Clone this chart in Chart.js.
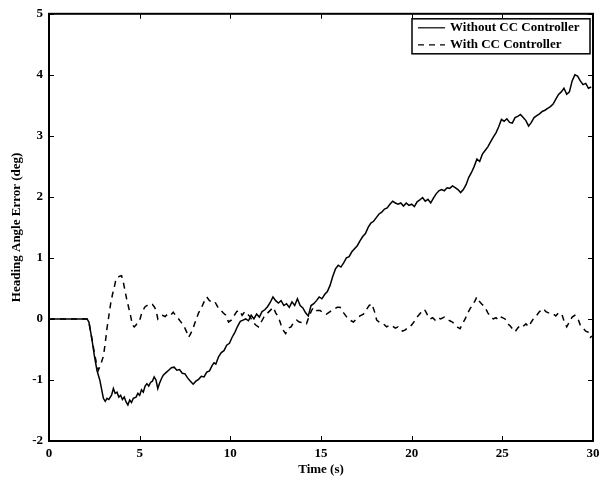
<!DOCTYPE html>
<html>
<head>
<meta charset="utf-8">
<script src="https://cdn.jsdelivr.net/npm/chart.js@4.4.1/dist/chart.umd.min.js"></script>
<style>
  html,body{margin:0;padding:0;background:#fff;}
  #wrap{width:608px;height:480px;}
</style>
</head>
<body>
<div id="wrap"><canvas id="myChart" width="608" height="480"></canvas></div>
<script>
// time (s) and heading angle error (deg)
let tWithout = [0,2.1,2.2,2.35,2.5,2.65,2.8,2.9,3.0,3.1,3.2,3.3,3.45,3.55,3.65,3.75,3.85,3.95,4.05,4.15,4.25,4.35,4.45,4.55,4.65,4.8,4.9,5.0,5.1,5.2,5.3,5.4,5.5,5.6,5.7,5.8,5.9,6.0,6.1,6.2,6.3,6.45,6.6,6.75,6.9,7.05,7.2,7.35,7.5,7.65,7.8,7.95,8.1,8.25,8.4,8.55,8.7,8.85,9.0,9.1,9.2,9.35,9.5,9.65,9.8,9.95,10.1,10.25,10.4,10.55,10.7,10.85,11.0,11.15,11.3,11.45,11.6,11.75,11.9,12.05,12.2,12.35,12.5,12.65,12.8,12.95,13.1,13.25,13.4,13.55,13.7,13.85,14.0,14.15,14.3,14.45,14.6,14.75,14.9,15.05,15.2,15.35,15.5,15.65,15.8,15.95,16.1,16.25,16.4,16.55,16.7,16.85,17.0,17.15,17.3,17.45,17.6,17.75,17.9,18.05,18.2,18.35,18.5,18.65,18.8,18.95,19.1,19.25,19.4,19.55,19.7,19.85,20.0,20.15,20.3,20.45,20.6,20.75,20.9,21.05,21.2,21.35,21.5,21.65,21.8,21.95,22.1,22.25,22.4,22.55,22.7,22.85,23.0,23.15,23.3,23.45,23.6,23.75,23.9,24.05,24.2,24.35,24.5,24.65,24.8,24.95,25.1,25.25,25.4,25.55,25.7,25.85,26.0,26.15,26.3,26.45,26.6,26.75,26.9,27.05,27.2,27.35,27.5,27.65,27.8,27.95,28.1,28.25,28.4,28.55,28.7,28.85,29.0,29.15,29.3,29.45,29.6,29.75,29.9]
let yWithout = [0,0,-0.05,-0.3,-0.6,-0.85,-1.0,-1.15,-1.3,-1.35,-1.3,-1.32,-1.25,-1.14,-1.22,-1.2,-1.28,-1.25,-1.32,-1.28,-1.36,-1.41,-1.33,-1.37,-1.3,-1.28,-1.22,-1.25,-1.16,-1.2,-1.1,-1.06,-1.1,-1.04,-1.02,-0.95,-1.0,-1.14,-1.05,-0.98,-0.92,-0.88,-0.84,-0.8,-0.79,-0.84,-0.83,-0.89,-0.9,-0.97,-1.02,-1.07,-1.02,-0.99,-0.94,-0.95,-0.87,-0.85,-0.76,-0.72,-0.74,-0.62,-0.55,-0.52,-0.43,-0.4,-0.3,-0.22,-0.12,-0.04,-0.02,0.0,-0.03,0.06,0.0,0.08,0.03,0.12,0.15,0.2,0.27,0.36,0.3,0.26,0.3,0.22,0.25,0.19,0.28,0.22,0.33,0.22,0.18,0.1,0.05,0.22,0.25,0.3,0.36,0.33,0.4,0.45,0.55,0.7,0.82,0.88,0.85,0.92,1.0,1.02,1.1,1.15,1.2,1.28,1.35,1.4,1.5,1.57,1.6,1.66,1.72,1.75,1.8,1.82,1.88,1.93,1.9,1.88,1.9,1.85,1.9,1.86,1.88,1.84,1.92,1.95,1.99,1.93,1.96,1.9,1.98,2.05,2.1,2.12,2.1,2.15,2.14,2.18,2.15,2.12,2.07,2.12,2.2,2.32,2.4,2.5,2.62,2.58,2.7,2.76,2.82,2.9,2.98,3.05,3.15,3.27,3.24,3.28,3.22,3.21,3.3,3.32,3.35,3.3,3.25,3.16,3.22,3.3,3.33,3.36,3.4,3.42,3.45,3.48,3.52,3.6,3.68,3.72,3.78,3.68,3.72,3.9,4.0,3.98,3.9,3.84,3.86,3.78,3.8]

let tWith = [0,2.1,2.2,2.35,2.5,2.6,2.72,2.85,3.0,3.1,3.2,3.3,3.4,3.5,3.6,3.7,3.8,3.9,4.0,4.1,4.2,4.3,4.4,4.5,4.6,4.7,4.8,4.9,5.0,5.1,5.2,5.3,5.4,5.55,5.7,5.8,5.9,6.0,6.1,6.25,6.4,6.55,6.7,6.85,7.0,7.15,7.3,7.45,7.6,7.7,7.8,7.95,8.1,8.25,8.4,8.55,8.7,8.85,9.0,9.15,9.3,9.45,9.6,9.75,9.9,10.05,10.2,10.35,10.5,10.65,10.8,10.95,11.1,11.25,11.4,11.55,11.7,11.85,12.0,12.2,12.37,12.5,12.65,12.8,12.95,13.05,13.2,13.35,13.5,13.66,13.8,14.0,14.2,14.35,14.5,14.6,14.75,14.95,15.1,15.3,15.5,15.7,15.9,16.05,16.25,16.42,16.6,16.79,16.95,17.15,17.34,17.5,17.65,17.8,17.95,18.07,18.25,18.44,18.62,18.8,18.95,19.1,19.25,19.36,19.5,19.65,19.8,19.91,20.05,20.2,20.35,20.5,20.6,20.74,20.9,21.02,21.15,21.3,21.45,21.6,21.8,21.94,22.1,22.25,22.4,22.55,22.67,22.8,22.95,23.1,23.22,23.35,23.5,23.59,23.7,23.85,24.05,24.2,24.35,24.5,24.65,24.8,24.95,25.15,25.3,25.45,25.6,25.7,25.85,26.0,26.15,26.3,26.45,26.6,26.75,26.9,27.05,27.26,27.4,27.55,27.7,27.81,27.95,28.1,28.28,28.4,28.55,28.7,28.85,29.0,29.15,29.3,29.45,29.6,29.75,29.85,29.95]
let yWith = [0,0,-0.05,-0.3,-0.55,-0.7,-0.84,-0.75,-0.61,-0.4,-0.15,0.05,0.25,0.4,0.52,0.66,0.68,0.7,0.71,0.6,0.45,0.3,0.18,0.05,-0.1,-0.13,-0.1,-0.05,-0.02,0.08,0.15,0.2,0.22,0.25,0.24,0.2,0.15,0.0,0.04,0.06,0.04,0.08,0.06,0.11,0.05,0.0,-0.06,-0.12,-0.22,-0.3,-0.25,-0.15,-0.02,0.1,0.18,0.28,0.36,0.3,0.27,0.28,0.2,0.15,0.1,0.06,-0.05,-0.02,0.05,0.12,0.14,0.06,0.12,0.08,0.03,-0.05,-0.1,-0.13,-0.05,0.03,0.08,0.14,0.19,0.1,0.03,-0.1,-0.2,-0.24,-0.15,-0.13,-0.05,-0.02,-0.05,-0.06,-0.08,0.05,0.15,0.19,0.14,0.14,0.1,0.08,0.12,0.16,0.19,0.19,0.1,0.03,-0.02,-0.05,0.0,0.05,0.08,0.15,0.22,0.25,0.12,-0.02,-0.06,-0.08,-0.13,-0.1,-0.12,-0.15,-0.13,-0.16,-0.2,-0.18,-0.14,-0.13,-0.08,-0.02,0.05,0.1,0.15,0.14,0.05,0.0,0.02,-0.02,0.02,0.0,0.03,0.0,-0.03,-0.05,-0.1,-0.14,-0.16,-0.08,0.0,0.1,0.17,0.22,0.3,0.36,0.3,0.25,0.19,0.1,0.04,0.0,0.02,-0.02,0.03,0.0,-0.08,-0.12,-0.18,-0.21,-0.15,-0.1,-0.12,-0.08,-0.13,-0.05,0.02,0.06,0.12,0.17,0.12,0.1,0.08,0.08,0.05,0.1,0.08,-0.03,-0.13,-0.05,0.03,0.06,0.02,-0.1,-0.15,-0.2,-0.22,-0.3,-0.28]

let xTicks = [0,5,10,15,20,25,30]
let yTicks = [-2,-1,0,1,2,3,4,5]

const labelFont = {family:"'Liberation Serif', 'DejaVu Serif', serif", size:13, weight:'bold'}

// matlab style box with inward ticks + legend in the top right corner
const boxPlugin = {
  id:'box',
  afterDraw(chart){
    const ctx = chart.ctx
    const ca = chart.chartArea
    const xs = chart.scales.x, ys = chart.scales.y
    ctx.save()
    ctx.strokeStyle = '#000'
    ctx.lineWidth = 1
    ctx.beginPath()
    xTicks.forEach(v=>{
      let px = Math.round(xs.getPixelForValue(v))+0.5
      ctx.moveTo(px, ca.bottom); ctx.lineTo(px, ca.bottom-5)
      ctx.moveTo(px, ca.top); ctx.lineTo(px, ca.top+5)
    })
    yTicks.forEach(v=>{
      let py = Math.round(ys.getPixelForValue(v))+0.5
      ctx.moveTo(ca.left, py); ctx.lineTo(ca.left+5, py)
      ctx.moveTo(ca.right, py); ctx.lineTo(ca.right-5, py)
    })
    ctx.stroke()
    ctx.lineWidth = 2
    ctx.strokeRect(ca.left, ca.top, ca.right-ca.left, ca.bottom-ca.top)

    // legend
    let bx = ca.right-181, by = ca.top+5, bw = 178, bh = 35
    ctx.fillStyle = '#fff'
    ctx.fillRect(bx, by, bw, bh)
    ctx.lineWidth = 1.5
    ctx.strokeRect(bx, by, bw, bh)
    ctx.font = "bold 13px 'Liberation Serif', 'DejaVu Serif', serif"
    ctx.textBaseline = 'middle'
    ctx.fillStyle = '#000'
    chart.data.datasets.forEach((ds,i)=>{
      let ly = by + 9 + i*17
      ctx.beginPath()
      ctx.lineWidth = 1.2
      ctx.setLineDash(ds.borderDash || [])
      ctx.moveTo(bx+6, ly); ctx.lineTo(bx+33, ly)
      ctx.stroke()
      ctx.setLineDash([])
      ctx.fillText(ds.label, bx+38, ly)
    })
    ctx.restore()
  }
}

new Chart("myChart", {
  type:'line',
  data:{
    datasets:[{
      label:'Without CC Controller',
      data: tWithout.map((t,i)=>({x:t, y:yWithout[i]})),
      borderColor:'#000',
      borderWidth:1.5,
      pointRadius:0,
      tension:0
    },{
      label:'With CC Controller',
      data: tWith.map((t,i)=>({x:t, y:yWith[i]})),
      borderColor:'#000',
      borderWidth:1.5,
      borderDash:[6,5],
      pointRadius:0,
      tension:0
    }]
  },
  options:{
    responsive:false,
    animation:false,
    layout:{padding:{top:12, right:15, left:0, bottom:0}},
    plugins:{legend:{display:false}, tooltip:{enabled:false}},
    scales:{
      x:{
        type:'linear', min:0, max:30,
        afterBuildTicks: s=>{ s.ticks = xTicks.map(v=>({value:v})) },
        afterFit: s=>{ s.height = 39 },
        grid:{display:false, drawTicks:false},
        border:{display:false},
        ticks:{color:'#000', font:labelFont, padding:5, maxRotation:0},
        title:{display:true, text:'Time (s)', color:'#000', font:labelFont, padding:{top:0,bottom:3}}
      },
      y:{
        min:-2, max:5,
        afterBuildTicks: s=>{ s.ticks = yTicks.map(v=>({value:v})) },
        afterFit: s=>{ s.width = 49 },
        grid:{display:false, drawTicks:false},
        border:{display:false},
        ticks:{color:'#000', font:labelFont, padding:6},
        title:{display:true, text:'Heading Angle Error (deg)', color:'#000', font:labelFont, padding:{top:9,bottom:0}}
      }
    }
  },
  plugins:[boxPlugin]
})
</script>
</body>
</html>
